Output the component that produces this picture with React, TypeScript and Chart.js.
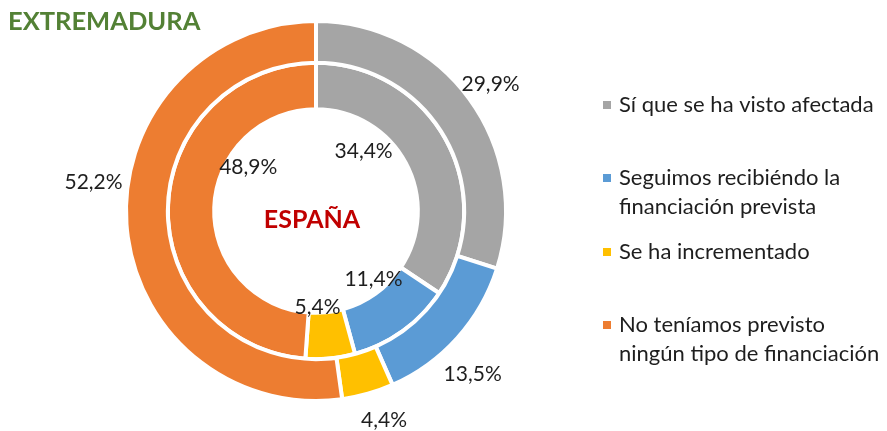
import React, { useEffect, useRef } from "react";
import { Chart, registerables } from "chart.js";

Chart.register(...registerables);

const categories = [
  "Sí que se ha visto afectada",
  "Seguimos recibiéndo la financiación prevista",
  "Se ha incrementado",
  "No teníamos previsto ningún tipo de financiación",
];
const legendLines = [
  ["Sí que se ha visto afectada"],
  ["Seguimos recibiéndo la", "financiación prevista"],
  ["Se ha incrementado"],
  ["No teníamos previsto", "ningún tipo de financiación"],
];
const extremaduraValues = [29.9, 13.5, 4.4, 52.2];
const espanaValues = [34.4, 11.4, 5.4, 48.9];
const colors = ["#A5A5A5", "#5B9BD5", "#FFC000", "#ED7D31"];

// label nudges (px) relative to computed arc positions
const outerNudges = [[-3, 3], [-7, 16], [8, -2], [-3, -44]];
const innerNudges = [[-21, -23], [12, 5], [-6, 19], [10, -41]];
const legendY = [105, 178, 252, 325];

const FONT = "Lato, 'Open Sans', sans-serif";

const fmt = (v: number) => v.toFixed(1).replace(".", ",") + "%";

const overlayPlugin = {
  id: "overlay",
  afterDatasetsDraw(chart: any) {
    const ctx = chart.ctx;
    ctx.save();
    ctx.font = `21px ${FONT}`;
    ctx.fillStyle = "#1e1e1e";
    ctx.textAlign = "center";
    ctx.textBaseline = "middle";
    chart.data.datasets.forEach((ds: any, di: number) => {
      const meta = chart.getDatasetMeta(di);
      meta.data.forEach((arc: any, i: number) => {
        const p = arc.getProps(["x", "y", "startAngle", "endAngle", "innerRadius", "outerRadius"], true);
        const mid = (p.startAngle + p.endAngle) / 2;
        const outer = di === 0;
        const r = outer ? p.outerRadius + 30 : p.innerRadius - 24;
        const n = outer ? outerNudges[i] : innerNudges[i];
        const x = p.x + Math.cos(mid) * r + n[0];
        const y = p.y + Math.sin(mid) * r + n[1];
        ctx.fillText(fmt(ds.data[i]), x, y);
      });
    });

    // titles
    ctx.textAlign = "left";
    ctx.font = `bold 25.5px ${FONT}`;
    ctx.fillStyle = "#538135";
    ctx.fillText("EXTREMADURA", 8, 22);
    const m = chart.getDatasetMeta(0).data[0];
    ctx.textAlign = "center";
    ctx.font = `bold 25px ${FONT}`;
    ctx.fillStyle = "#C00000";
    ctx.fillText("ESPAÑA", m.x - 4, m.y + 9);

    // legend
    ctx.textAlign = "left";
    ctx.font = `22px ${FONT}`;
    legendLines.forEach((lines, i) => {
      const y0 = legendY[i];
      ctx.fillStyle = colors[i];
      ctx.fillRect(603, y0 - 4, 8, 8);
      ctx.fillStyle = "#1e1e1e";
      lines.forEach((t, j) => ctx.fillText(t, 619, y0 + j * 29));
    });
    ctx.restore();
  },
};

export default function App() {
  const ref = useRef<HTMLCanvasElement>(null);
  useEffect(() => {
    document.body.style.margin = "0";
    const chart = new Chart(ref.current!, {
      type: "doughnut",
      data: {
        labels: categories,
        datasets: [
          {
            label: "Extremadura",
            data: extremaduraValues,
            backgroundColor: colors,
            borderColor: "#FFFFFF",
            borderWidth: 4,
            weight: 37,
          },
          {
            label: "España",
            data: espanaValues,
            backgroundColor: colors,
            borderColor: "#FFFFFF",
            borderWidth: 4,
            weight: 41,
          },
        ],
      },
      options: {
        responsive: false,
        animation: false,
        radius: 190,
        cutout: 112,
        layout: { padding: { left: 0, right: 255, top: 0, bottom: 9 } },
        plugins: { legend: { display: false }, tooltip: { enabled: false } },
      } as any,
      plugins: [overlayPlugin],
    });
    return () => chart.destroy();
  }, []);
  return (
    <div style={{ position: "fixed", left: 0, top: 0, width: 887, height: 431, background: "#fff" }}>
      <canvas ref={ref} width={887} height={431} />
    </div>
  );
}
